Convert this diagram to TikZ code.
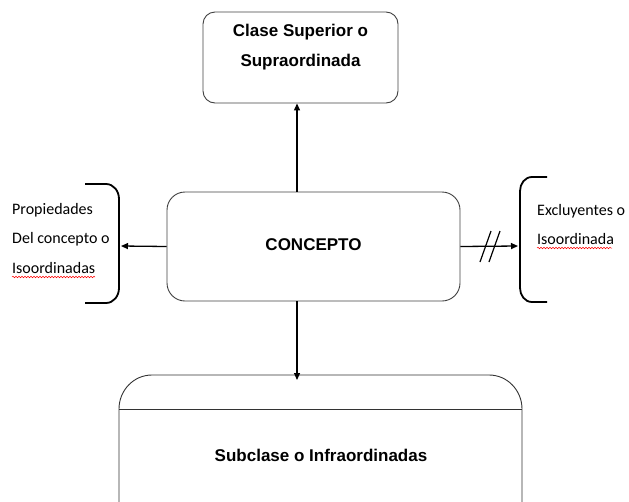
\documentclass[tikz,border=0pt]{standalone}
\usepackage{fontspec}
\setmainfont{Liberation Sans}
\newfontfamily\calib{Carlito}
\usetikzlibrary{arrows.meta,decorations.pathmorphing}
\begin{document}
\begin{tikzpicture}[x=1pt,y=-1pt,
  box/.style={draw=black!75, line width=0.9pt, rounded corners=12pt},
  lbl/.style={font=\bfseries\fontsize{17}{30}\selectfont, align=center},
  conn/.style={line width=1.3pt, -{Triangle[length=7pt,width=6pt]}},
  bracket/.style={line width=1.8pt},
  side/.style={font=\calib\fontsize{16}{18}\selectfont, anchor=west, inner sep=0pt},
  squig/.style={draw=red, line width=0.5pt, decorate, decoration={snake, amplitude=0.8pt, segment length=3pt}}]
\useasboundingbox (0,0) rectangle (629,501);

% top box
\node[box, minimum width=195pt, minimum height=91pt] (sup) at (300.5,57.5) {};
\node[lbl] (suplbl) at (300.5,47) {Clase Superior o\\Supraordinada};

% center box
\node[box, rounded corners=18pt, minimum width=293pt, minimum height=109pt] (con) at (313.5,246.5) {};
\node[lbl] (conlbl) at (313.5,245) {CONCEPTO};

% bottom box (cut by the page edge)
\coordinate (subtop) at (297,375);
\draw[draw=black!80, line width=0.9pt]
  (119,510) -- (119,409) to[out=90,in=180] (152,375) -- (489,375) to[out=0,in=90] (522,409) -- (522,510);
\draw[draw=black!80, line width=0.9pt] (119,409) -- (522,409);
\node[lbl] (sublbl) at (321,455) {Subclase o Infraordinadas};

% arrows
\coordinate (ax) at (297,0);
\draw[conn] (con.north -| ax) -- (sup.south -| ax);
\draw[conn] (con.south -| ax) -- ([yshift=-5pt]subtop);

% left bracket
\coordinate (lbr) at (121,246);
\draw[bracket] (85,184) -- (106,184) to[out=0,in=90] (119,199) -- (119,288) to[out=-90,in=0] (106,303) -- (85,303);
\draw[conn] (con.west) -- (lbr);
\node[side] (p1) at (12,210) {Propiedades};
\node[side] (p2) at (12,239) {Del concepto o};
\node[side] (p3) at (12,268) {Isoordinadas};
\draw[squig] (12,277) -- (95,277);

% right bracket
\coordinate (rbr) at (518,246);
\draw[bracket] (547,177) -- (532,177) to[out=180,in=90] (520,191) -- (520,288) to[out=-90,in=180] (532,302) -- (547,302);
\draw[conn] (con.east) -- (rbr);
\draw[line width=1.2pt] (480,262) -- (491,231);
\draw[line width=1.2pt] (489,262) -- (500,231);
\node[side] (e1) at (537,211) {Excluyentes o};
\node[side] (e2) at (537,239) {Isoordinada};
\draw[squig] (537,248) -- (612,248);
\end{tikzpicture}
\end{document}
